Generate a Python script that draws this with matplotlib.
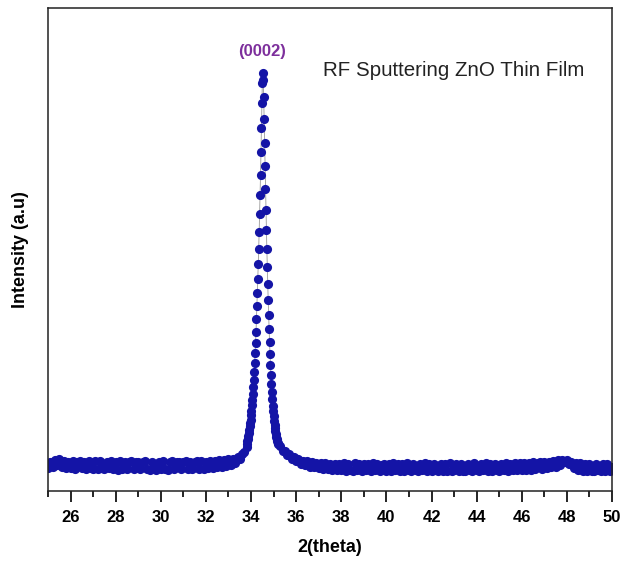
"""XRD pattern of RF sputtered ZnO thin film"""
import numpy as np
import matplotlib.pyplot as plt

plt.rcParams['font.family'] = ['Liberation Sans', 'DejaVu Sans']

# 2theta grid of the scan (coarse on the background, fine over the peak)
theta_left = np.round(np.arange(25.0, 33.75, 0.1), 2)
theta_peak = np.round(np.arange(33.80, 35.21, 0.02), 2)
theta_right = np.round(np.arange(35.3, 50.05, 0.1), 2)

# intensities (a.u.)
int_left = [
    235, 295, 240, 315, 262, 318, 236, 300, 232, 290,
    228, 296, 222, 288, 300, 226, 294, 220, 298, 232,
    224, 296, 218, 300, 230, 216, 292, 226, 298, 222,
    290, 214, 296, 224, 292, 218, 288, 298, 220, 286,
    294, 218, 286, 300, 222, 214, 294, 226, 212, 290,
    220, 296, 224, 214, 290, 298, 218, 288, 294, 216,
    290, 298, 222, 294, 218, 288, 300, 224, 296, 220,
    292, 226, 300, 230, 302, 236, 306, 240, 310, 246,
    318, 262, 322, 280, 340, 320, 370, 395,
]
int_peak = [
    440, 470, 500, 525, 555, 585, 615, 650, 680, 715,
    760, 805, 860, 915, 975, 1040, 1110, 1190, 1280, 1380,
    1480, 1590, 1720, 1850, 1980, 2120, 2270, 2420, 2590, 2770,
    2960, 3160, 3390, 3630, 3880, 4080, 4180, 4110, 3940, 3720,
    3480, 3250, 3020, 2810, 2610, 2420, 2240, 2070, 1910, 1760,
    1620, 1490, 1370, 1260, 1160, 1070, 990, 920, 855, 800,
    750, 705, 665, 630, 600, 570, 545, 522, 500, 482, 466,
]
int_right = [
    450, 405, 400, 360, 368, 322, 342,
    296, 320, 272, 305, 258, 296, 240, 288, 236, 282,
    226, 280, 222, 276, 224, 272, 210, 274, 214, 270,
    206, 276, 204, 272, 212, 200, 276, 206, 270, 202,
    274, 206, 268, 198, 276, 208, 270, 200, 264, 274,
    204, 270, 198, 276, 206, 272, 196, 268, 204, 278,
    210, 200, 272, 206, 196, 270, 208, 276, 200, 266,
    198, 272, 206, 202, 274, 196, 268, 204, 278, 200,
    208, 274, 198, 270, 204, 196, 274, 208, 200, 276,
    206, 198, 272, 208, 278, 202, 270, 196, 274, 206,
    200, 272, 208, 276, 204, 270, 206, 280, 210, 276,
    208, 282, 212, 278, 210, 286, 218, 276, 290, 222,
    286, 226, 294, 236, 298, 244, 306, 262, 312, 290,
    308, 272, 288, 228, 278, 212, 276, 204, 272, 200,
    270, 204, 198, 274, 206, 200, 272, 196, 268, 204,
    240,
]

two_theta = np.concatenate([theta_left, theta_peak, theta_right])
intensity = np.array(int_left + int_peak + int_right)

fig = plt.figure(figsize=(6.21, 5.62), dpi=100)
ax = fig.add_axes([0.0773, 0.1263, 0.9082, 0.8595])

ax.plot(two_theta, intensity, color='#9a9a9a', lw=0.6, zorder=1)
ax.plot(two_theta, intensity, 'o', color='#1414a6', ms=6.6, mew=0, zorder=2)

ax.set_xlim(25, 50)
ax.set_ylim(0, 4830)
ax.set_xticks(np.arange(26, 51, 2))
ax.set_xticks(np.arange(25, 51, 1), minor=True)
ax.set_yticks([])
ax.tick_params(axis='x', which='major', direction='out', length=8, width=1.2,
               labelsize=12, pad=6)
ax.tick_params(axis='x', which='minor', direction='out', length=4, width=1.2)
for lab in ax.get_xticklabels():
    lab.set_fontweight('bold')
for sp in ax.spines.values():
    sp.set_linewidth(1.1)
    sp.set_color('#222222')

ax.set_xlabel('2(theta)', fontsize=13, fontweight='bold', labelpad=10)
ax.set_ylabel('Intensity (a.u)', fontsize=13, fontweight='bold', labelpad=14)

ax.text(34.48, 4390, '(0002)', color='#7d2f9c', fontsize=12, fontweight='bold',
        ha='center', va='center')
ax.text(37.2, 4200, 'RF Sputtering ZnO Thin Film', color='#222222',
        fontsize=14.8, ha='left', va='center')

fig.savefig('out.png', dpi=100)
